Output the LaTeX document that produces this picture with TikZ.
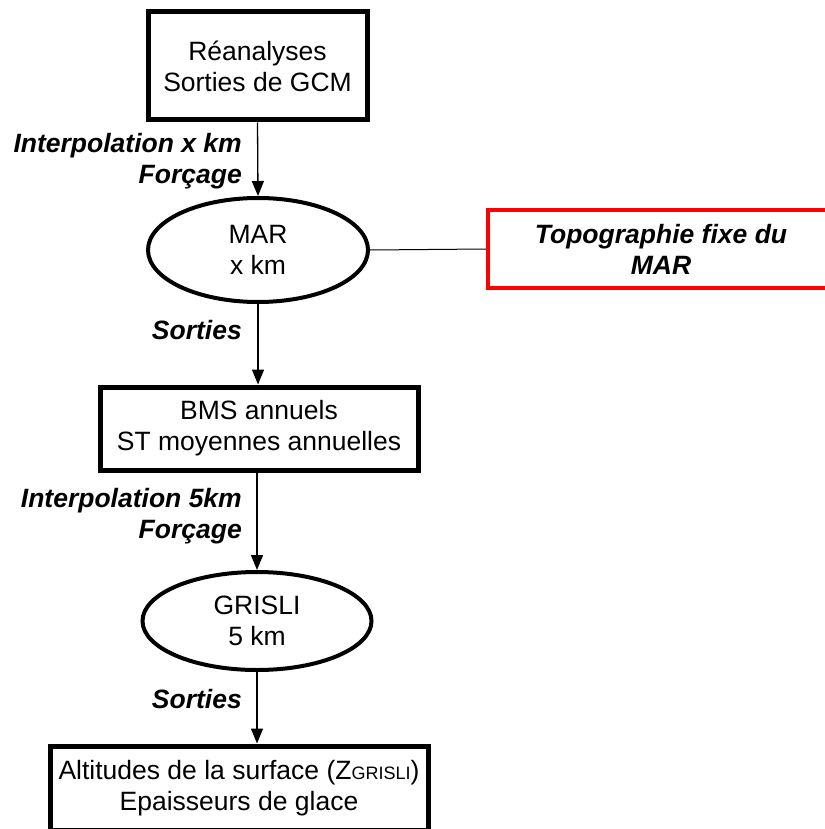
\documentclass[tikz,border=0pt]{standalone}
\usepackage{fontspec}
\setmainfont{Liberation Sans}
\usetikzlibrary{shapes.geometric,arrows.meta}

\begin{document}
\begin{tikzpicture}[
		x=1pt, y=-1pt,
		box/.style={
			draw,
			line width=5pt,
			align=center,
			inner sep=0pt,
			font=\fontsize{26.5}{31}\selectfont,
			fill=white
		},
		model/.style={
			draw,
			ellipse,
			line width=4pt,
			align=center,
			inner sep=0pt,
			font=\fontsize{26.5}{31}\selectfont,
			fill=white
		},
		fixbox/.style={
			draw=red,
			line width=4.5pt,
			align=center,
			inner sep=0pt,
			font=\fontsize{26.5}{31}\selectfont\bfseries\itshape,
			fill=white
		},
		steplabel/.style={
			anchor=east,
			align=right,
			inner sep=0pt,
			font=\fontsize{26.5}{31}\selectfont\bfseries\itshape
		},
		arrow/.style={draw, line width=1.3pt, -{Triangle[width=12pt,length=15pt]}},
		line/.style={draw, line width=1pt}
		]
		
		\useasboundingbox (0,0) rectangle (824,829);
		
		% Inputs
		\node[box, minimum width=219pt, minimum height=108pt] (input) at (257.5,66)
		{R\'eanalyses\\Sorties de GCM};
		
		% Regional model
		\node[model, minimum width=220pt, minimum height=104pt] (mar) at (258,250)
		{MAR\\x km};
		
		% Fixed topography (red border)
		\node[fixbox, minimum width=346pt, minimum height=78pt] (topo) at (661,249)
		{Topographie fixe du\\MAR};
		
		% Annual outputs
		\node[box, minimum width=318pt, minimum height=83pt] (bms) at (259,428.5)
		{BMS annuels\\ST moyennes annuelles};
		
		% Ice sheet model
		\node[model, minimum width=229pt, minimum height=98pt] (grisli) at (257,621)
		{GRISLI\\5 km};
		
		% Final outputs
		\node[box, minimum width=378pt, minimum height=84pt] (out) at (239,788)
		{Altitudes de la surface (Z{\fontsize{18}{18}\selectfont GRISLI})\\Epaisseurs de glace};
		
		% Step labels
		\node[steplabel] (lab1) at (242,161) {Interpolation x km\\For\c{c}age};
		\node[steplabel] (lab2) at (242,330) {Sorties};
		\node[steplabel] (lab3) at (242,516) {Interpolation 5km\\For\c{c}age};
		\node[steplabel] (lab4) at (242,699) {Sorties};
		
		% Structure lines
		\draw[arrow] (input.south) -- (mar.north);
		\draw[line] (mar.east) -- (topo.west);
		\draw[arrow] (mar.south) -- (bms.north -| mar.south);
		\draw[arrow] (grisli.north |- bms.south) -- (grisli.north);
		\draw[arrow] (grisli.south) -- (out.north -| grisli.south);
		
	\end{tikzpicture}
\end{document}
